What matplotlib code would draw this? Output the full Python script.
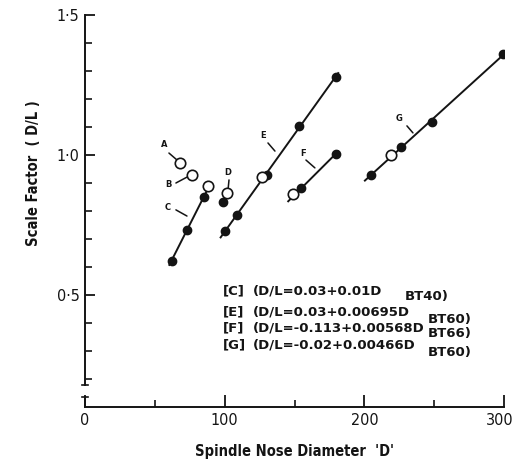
import matplotlib
matplotlib.use('Agg')
import matplotlib.pyplot as plt
import matplotlib.transforms as mtrans
import numpy as np

# ---------------- data ----------------
c_x = [62.0, 72.8, 85.2]
c_y = [0.622, 0.732, 0.851]
e_x = [100.0, 109.0, 130.0, 153.4, 179.7]
e_y = [0.730, 0.786, 0.929, 1.104, 1.280]
f_x = [155.0, 179.7]
f_y = [0.882, 1.005]
g_x = [204.7, 226.2, 248.6, 299.4]
g_y = [0.929, 1.030, 1.119, 1.360]
d_x = [99.0]
d_y = [0.833]
# open circles (A, B, C, D, E, F, G)
open_x = [68.0, 76.6, 87.8, 101.9, 126.5, 149.0, 218.8]
open_y = [0.971, 0.929, 0.889, 0.863, 0.920, 0.861, 1.000]
# x-extent of each fitted line
c_span = [60.4, 89.5]
e_span = [97.1, 181.3]
f_span = [145.5, 181.3]
g_span = [200.4, 304.2]

point_labels = ['A', 'B', 'C', 'D', 'E', 'F', 'G']
legend_keys = ['[C]', '[E]', '[F]', '[G]']
legend_eqs = ['(D/L=0.03+0.01D', '(D/L=0.03+0.00695D', '(D/L=-0.113+0.00568D', '(D/L=-0.02+0.00466D']
legend_subs = ['BT40)', 'BT60)', 'BT66)', 'BT60)']

x_ticks = [0, 100, 200, 300]
x_minor = [50, 150, 250]
y_ticks = [0.5, 1.0, 1.5]
y_ticklabels = ['0·5', '1·0', '1·5']
y_minor = [0.2, 0.3, 0.4, 0.6, 0.7, 0.8, 0.9, 1.1, 1.2, 1.3, 1.4]

plt.rcParams['font.family'] = ['DejaVu Sans']
plt.rcParams['font.stretch'] = 'condensed'
INK = '#141414'

fig = plt.figure(figsize=(5.16, 4.72), dpi=100)
ax = fig.add_axes([85/516, 1-407/472, 419/516, 392/472])
ax.set_xlim(0, 300)
ax.set_ylim(0.1, 1.5)

for sx, sy, span in [(c_x, c_y, c_span), (e_x, e_y, e_span), (f_x, f_y, f_span), (g_x, g_y, g_span)]:
    k, b = np.polyfit(sx, sy, 1)
    xs = np.array(span)
    ax.plot(xs, k*xs + b, color=INK, lw=1.4, zorder=2)
    ax.plot(sx, sy, 'o', color=INK, ms=6, zorder=3)
ax.plot(d_x, d_y, 'o', color=INK, ms=6, zorder=3)
ax.plot(open_x, open_y, 'o', mfc='white', mec=INK, mew=1.2, ms=7.5, zorder=4)

# point / line labels with leader strokes
lab_pos = [(56.5, 1.036), (59.4, 0.893), (59.4, 0.811), (102.4, 0.939),
           (127.4, 1.068), (156.0, 1.004), (224.8, 1.132)]
lead_from = [(60.1, 1.007), (65.1, 0.900), (65.1, 0.804), (103.1, 0.911),
             (131.0, 1.043), (158.2, 0.982), (230.5, 1.104)]
lead_to = [(65.9, 0.982), (73.0, 0.921), (73.0, 0.782), (102.4, 0.875),
           (136.0, 1.014), (164.6, 0.954), (234.8, 1.079)]
for lab, p, a, b2 in zip(point_labels, lab_pos, lead_from, lead_to):
    ax.text(p[0], p[1], lab, fontsize=6, fontweight='bold', color=INK,
            ha='center', va='center', fontstretch='normal')
    ax.annotate('', xy=b2, xytext=a, arrowprops=dict(arrowstyle='-', color=INK, lw=1.1,
                                                    shrinkA=0, shrinkB=0))

# legend block
rows_y = [0.514, 0.439, 0.382, 0.321]
subs_y = [0.493, 0.414, 0.361, 0.296]
subs_x = [229.0, 245.5, 245.5, 245.5]
for key, eq, sub, ry, sy_, sx_ in zip(legend_keys, legend_eqs, legend_subs, rows_y, subs_y, subs_x):
    ax.text(98.8, ry, key, fontsize=9.5, fontweight='bold', color=INK, va='center',
            fontstretch='normal')
    ax.text(120.3, ry, eq, fontsize=9.5, fontweight='bold', color=INK, va='center',
            fontstretch='normal')
    ax.text(sx_, sy_, sub, fontsize=9.5, fontweight='bold', color=INK, va='center',
            fontstretch='normal')

# axes styling
for s in ['top', 'right', 'left']:
    ax.spines[s].set_visible(False)
ax.spines['bottom'].set_color(INK)
ax.spines['bottom'].set_linewidth(1.4)
# broken y axis
ax.plot([0, 0], [0.1, 0.136], color=INK, lw=1.4, clip_on=False)
ax.plot([0, 0], [0.179, 1.5], color=INK, lw=1.4, clip_on=False)
ax.plot([-2.5, 2.5], [0.136, 0.136], color=INK, lw=1.2, clip_on=False)
ax.plot([-2.5, 2.5], [0.179, 0.179], color=INK, lw=1.2, clip_on=False)

ax.set_xticks(x_ticks)
ax.set_xticks(x_minor, minor=True)
ax.set_yticks(y_ticks)
ax.set_yticklabels(y_ticklabels)
ax.set_yticks(y_minor, minor=True)
ax.tick_params(axis='both', which='major', direction='in', width=1.3,
               color=INK, labelsize=11.5, labelcolor=INK, pad=4)
ax.tick_params(axis='x', which='major', length=9)
ax.tick_params(axis='y', which='major', length=7)
ax.tick_params(axis='both', which='minor', direction='in', length=5, width=1.2, color=INK)

# nudge the last x tick label so it stays inside the canvas
lbl = ax.get_xticklabels()[-1]
lbl.set_transform(lbl.get_transform() + mtrans.ScaledTranslation(-4/100, 0, fig.dpi_scale_trans))

ax.set_xlabel("Spindle Nose Diameter  'D'", fontsize=10.5, fontweight='bold', color=INK, labelpad=12)
ax.set_ylabel('Scale Factor  ( D/L )', fontsize=10.5, fontweight='bold', color=INK)
ax.yaxis.set_label_coords(-0.105, 0.597)

fig.savefig('out.png', dpi=100, facecolor='white')
